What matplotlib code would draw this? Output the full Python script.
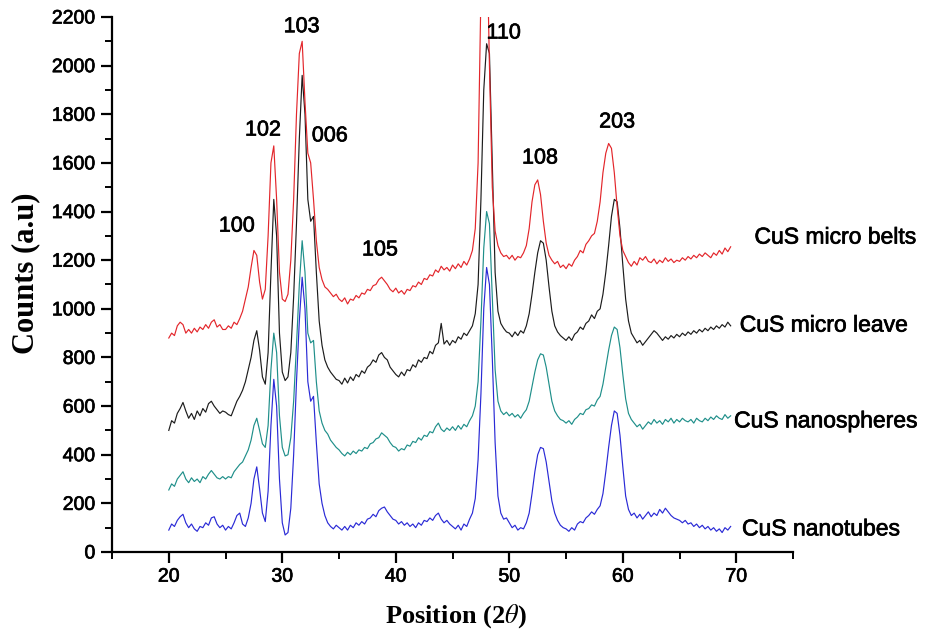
import numpy as np
import matplotlib
matplotlib.use("Agg")
import matplotlib.pyplot as plt
import matplotlib.patheffects as pe
from matplotlib.ticker import MultipleLocator

plt.rcParams["mathtext.fontset"] = "stix"

# 2theta grid, 0.25 deg steps from 20 to 69.5
two_theta = np.linspace(20, 69.5, 199)

micro_belts = [
    880, 900, 890, 930, 945, 935, 900, 915, 900, 920, 905, 925, 915, 935, 920, 945, 955, 925, 935, 915,
    915, 930, 920, 945, 935, 960, 990, 1040, 1090, 1170, 1240, 1220, 1110, 1040, 1080, 1300, 1600, 1670, 1450, 1150,
    1040, 1030, 1060, 1200, 1450, 1800, 2050, 2100, 1850, 1640, 1600, 1450, 1280, 1170, 1120, 1090, 1080, 1065, 1050, 1060,
    1040, 1030, 1045, 1020, 1040, 1035, 1055, 1045, 1065, 1060, 1080, 1075, 1095, 1100, 1120, 1130, 1115, 1100, 1080, 1070,
    1085, 1065, 1075, 1060, 1080, 1075, 1095, 1090, 1110, 1100, 1125, 1120, 1140, 1135, 1160, 1150, 1175, 1160, 1170, 1155,
    1180, 1165, 1185, 1170, 1195, 1180, 1205, 1240, 1330, 1600, 2300, 2700, 2600, 2000, 1500, 1320, 1260, 1230, 1215, 1220,
    1205, 1220, 1200, 1215, 1210, 1230, 1260, 1330, 1440, 1510, 1530, 1470, 1360, 1270, 1220, 1200, 1185, 1195, 1170, 1180,
    1165, 1185, 1175, 1200, 1215, 1240, 1230, 1265, 1280, 1300, 1310, 1360, 1440, 1560, 1640, 1680, 1660, 1560, 1420, 1300,
    1240, 1215, 1190, 1175, 1195, 1180, 1210, 1200, 1215, 1195, 1190, 1205, 1185, 1200, 1190, 1210, 1195, 1205, 1190, 1200,
    1195, 1210, 1200, 1215, 1205, 1220, 1210, 1225, 1215, 1230, 1220, 1210, 1230, 1220, 1240, 1225, 1250, 1235, 1255,
]

micro_leave = [
    500, 540, 530, 570, 590, 615, 580, 550, 570, 545, 580, 560, 590, 575, 610, 620, 600, 585, 570, 580,
    575, 565, 560, 590, 620, 640, 665, 700, 750, 800, 870, 910, 830, 720, 690, 820, 1150, 1450, 1300, 900,
    740, 705, 720, 820, 1050, 1350, 1700, 1960, 1800, 1450, 1360, 1380, 1150, 950, 850, 790, 760, 740, 725, 710,
    705, 690, 715, 695, 720, 705, 730, 720, 745, 735, 760, 770, 790, 780, 810, 820, 800, 790, 760, 745,
    730, 720, 740, 725, 750, 745, 770, 760, 790, 780, 800, 795, 825, 815, 850, 860, 940, 855, 870, 850,
    870, 860, 885, 875, 900, 890, 910, 930, 980, 1100, 1450, 1900, 2090, 2050, 1600, 1150, 990, 940, 920, 905,
    900, 885, 905, 890, 910, 900, 930, 980, 1060, 1150, 1230, 1280, 1270, 1200, 1090, 990, 930, 905, 890, 880,
    870, 885, 870, 895, 905, 925, 915, 940, 950, 975, 960, 990, 1000, 1060, 1150, 1260, 1380, 1450, 1440, 1330,
    1180, 1040, 950, 900, 880, 860, 870, 850, 865, 880, 895, 910, 900, 885, 870, 885, 875, 890, 880, 895,
    885, 900, 890, 905, 895, 910, 900, 915, 905, 920, 910, 925, 915, 930, 920, 935, 925, 945, 930,
]

nanospheres = [
    255, 280, 270, 300, 315, 330, 300, 285, 305, 290, 300, 285, 310, 300, 320, 335, 320, 305, 300, 310,
    300, 310, 305, 330, 345, 360, 370, 395, 420, 460, 520, 550, 500, 445, 430, 520, 750, 900, 820, 560,
    430, 395, 400, 470, 620, 850, 1100, 1280, 1150, 900, 860, 870, 700, 580, 530, 500, 485, 460, 445, 430,
    420, 405, 395, 410, 400, 415, 405, 420, 415, 430, 425, 445, 450, 465, 470, 490, 480, 470, 450, 435,
    430, 415, 425, 420, 440, 435, 455, 450, 470, 460, 480, 475, 495, 490, 515, 530, 505, 495, 510, 500,
    515, 500, 520, 505, 525, 515, 540, 560, 600, 700, 950, 1250, 1400, 1350, 1050, 750, 620, 580, 565, 575,
    560, 570, 555, 565, 550, 570, 585, 620, 680, 740, 790, 815, 810, 760, 690, 620, 580, 560, 545, 540,
    530, 540, 525, 545, 555, 570, 565, 585, 590, 605, 600, 625, 640, 690, 760, 830, 890, 925, 915, 840,
    730, 630, 570, 545, 530, 515, 525, 505, 520, 535, 525, 545, 530, 540, 525, 545, 535, 550, 530, 545,
    535, 550, 540, 535, 545, 530, 550, 540, 535, 550, 540, 555, 545, 560, 550, 545, 565, 550, 560,
]

nanotubes = [
    90, 115, 105, 130, 145, 155, 120, 100, 115, 95, 85, 105, 100, 120, 110, 140, 145, 115, 100, 110,
    90, 105, 95, 120, 150, 160, 115, 105, 140, 200, 300, 350, 260, 160, 125, 250, 520, 710, 600, 300,
    120, 70, 80, 180, 400, 700, 950, 1130, 1000, 700, 620, 640, 450, 280, 200, 150, 120, 105, 95, 110,
    100, 90, 105, 90, 110, 100, 120, 110, 125, 115, 135, 140, 155, 145, 170, 180, 185, 165, 150, 135,
    130, 115, 125, 110, 120, 105, 115, 100, 120, 110, 130, 125, 140, 130, 150, 160, 135, 120, 130, 115,
    105, 95, 110, 90, 115, 105, 135, 160, 220, 380, 650, 1000, 1170, 1100, 800, 450, 230, 160, 135, 140,
    120, 100, 110, 90, 100, 95, 120, 160, 240, 330, 400, 430, 425, 370, 290, 210, 160, 130, 110, 100,
    95, 85, 100, 90, 115, 125, 120, 140, 150, 165, 155, 175, 190, 240, 330, 430, 520, 580, 570, 480,
    350, 230, 175, 150, 160, 140, 155, 135, 150, 165, 145, 160, 150, 175, 160, 180, 165, 150, 140, 135,
    130, 120, 130, 115, 120, 105, 115, 100, 110, 95, 105, 90, 100, 85, 95, 80, 100, 90, 105,
]

series_names = ["CuS micro belts", "CuS micro leave", "CuS nanospheres", "CuS nanotubes"]
series_colors = ["#e3262b", "#1c1c1c", "#1f8f8a", "#2a2ad6"]
series_label_pos = [(71.6, 1295), (70.3, 933), (69.8, 539), (70.5, 95)]

peak_labels = ["100", "102", "103", "006", "105", "110", "108", "203"]
peak_label_pos = [(26.0, 1340), (28.3, 1735), (31.7, 2160), (34.2, 1711),
                  (38.6, 1242), (49.5, 2134), (52.7, 1620), (59.5, 1768)]

fig = plt.figure(figsize=(9.36, 6.32), dpi=100)
ax = fig.add_axes([0.1197, 0.1266, 0.7276, 0.8465])

all_series = [micro_belts, micro_leave, nanospheres, nanotubes]
for i in [3, 2, 1, 0]:
    ax.plot(two_theta, all_series[i], color=series_colors[i], lw=0.85)

sans = ["Liberation Sans", "DejaVu Sans"]
thick = [pe.withStroke(linewidth=0.5, foreground="black")]
for name, (tx, ty) in zip(series_names, series_label_pos):
    ax.text(tx, ty, name, fontsize=16.5, family=sans, ha="left", va="center",
            path_effects=thick)
for lab, (tx, ty) in zip(peak_labels, peak_label_pos):
    ax.text(tx, ty, lab, fontsize=15.5, family=sans, ha="center", va="center",
            path_effects=thick)

ax.set_xlim(15, 75)
ax.set_ylim(0, 2200)
ax.set_xticks([20, 30, 40, 50, 60, 70])
ax.xaxis.set_minor_locator(MultipleLocator(5))
ax.yaxis.set_major_locator(MultipleLocator(200))
ax.yaxis.set_minor_locator(MultipleLocator(100))
ax.spines["top"].set_visible(False)
ax.spines["right"].set_visible(False)
for s in ["left", "bottom"]:
    ax.spines[s].set_linewidth(1.6)
ax.tick_params(which="major", direction="out", length=8, width=1.6, labelsize=14, pad=4)
ax.tick_params(which="minor", direction="out", length=5, width=1.4)
for t in ax.get_xticklabels() + ax.get_yticklabels():
    t.set_family(sans)
    t.set_path_effects(thick)

serif = ["Liberation Serif", "DejaVu Serif"]
fig.text(456 / 936, 1 - 616 / 632, r"Position (2$\theta$)", fontsize=19,
         fontweight="bold", family=serif, ha="center", va="center")
fig.text(26 / 936, 1 - 273 / 632, "Counts (a.u)", fontsize=22, fontweight="bold",
         family=serif, ha="center", va="center", rotation=90)

fig.savefig("out.png", dpi=100)
